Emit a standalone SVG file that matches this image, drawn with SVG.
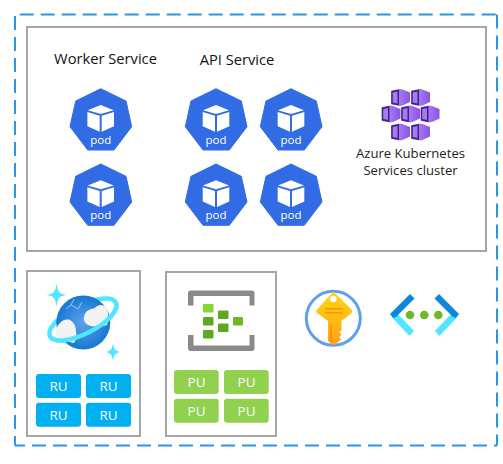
<svg xmlns="http://www.w3.org/2000/svg" width="503" height="464" viewBox="0 0 503 464">
<style>
text{font-family:"Open Sans","Noto Sans","Liberation Sans",sans-serif}
.box{fill:#fff;stroke:#a6a6a6;stroke-width:2}
.title{font-size:14.7px;fill:#111;text-anchor:middle}
.cap{font-size:13.100px;fill:#222;text-anchor:middle}
.pod{font-size:11.500px;fill:#fff;text-anchor:middle}
.unit{font-size:13.500px;fill:#fff;text-anchor:middle}
.ru{fill:#00b0f0}
.pu{fill:#92d050}
</style>
<defs>
<g id="podShape">
<path d="M0 0 25.3 12.3 31 38 13.3 61.300H-13L-30.700 38-25 12.300Z" fill="#326ce5" stroke="#326ce5" stroke-width="1" stroke-linejoin="round"/>
<path d="M0 16.300-13 21.500 0 25.200 13 21.500Z" fill="#fff"/>
<path d="M-13.300 23.200-1 27V43L-13.300 37.600Z" fill="#fff"/>
<path d="M13.300 23.200 1 27V43L13.300 37.600Z" fill="#fff"/>
</g>
<linearGradient id="cubeGrad" x1="0" x2="1" y1="0" y2="0"><stop offset="0" stop-color="#b796f9"/><stop offset="1" stop-color="#8a52e6"/></linearGradient>
<g id="aksCube">
<path d="M-9-7-1-8.500 2-8 9.500-5V4.500L2 8-1 8.500-9 7Z" fill="url(#cubeGrad)"/>
<path d="M-9.300-6.500-1.500-8V8L-9.300 6.500Z" fill="#3f2180"/>
<path d="M-7.800-5-3-5.900V5.900L-7.800 5Z" fill="#a67af4"/>
</g>
<radialGradient id="globe" cx="0.5" cy="0.5" r="0.55"><stop offset="0" stop-color="#5ea0ef"/><stop offset="1" stop-color="#0f74cc"/></radialGradient>
<linearGradient id="keyGrad" x1="0" x2="0" y1="0" y2="1"><stop offset="0" stop-color="#ffd70f"/><stop offset="1" stop-color="#fea11b"/></linearGradient>
<path id="star" d="M0-12C1-3 3-1 10 0 3 1 1 3 0 12-1 3-3 1-10 0-3-1-1-3 0-12Z" fill="#50e6ff"/>
</defs>

<g id="connectors"/>

<g id="outer-boundary"><path d="M19.700 14.500H497M15 16V445.500M32 445.500H497M15 445.500H25M497 14.500V445.500" fill="none" stroke="#2b95e6" stroke-width="2" stroke-dasharray="14 7"/></g>

<g id="aks-panel"><rect class="box" x="27" y="27" width="459" height="224"/></g>

<g id="worker-title"><text class="title" x="105.500" y="64">Worker Service</text></g>
<g id="api-title"><text class="title" x="237" y="64.500">API Service</text></g>

<g id="pod-w1"><use href="#podShape" x="100.700" y="88.700"/><text class="pod" x="100.700" y="144">pod</text></g>
<g id="pod-w2"><use href="#podShape" x="100.700" y="164"/><text class="pod" x="100.700" y="219">pod</text></g>
<g id="pod-a1"><use href="#podShape" x="216" y="88.700"/><text class="pod" x="216" y="144">pod</text></g>
<g id="pod-a2"><use href="#podShape" x="291" y="88.700"/><text class="pod" x="291" y="144">pod</text></g>
<g id="pod-a3"><use href="#podShape" x="216" y="164"/><text class="pod" x="216" y="219">pod</text></g>
<g id="pod-a4"><use href="#podShape" x="291" y="164"/><text class="pod" x="291" y="219">pod</text></g>

<g id="aks-cluster">
<use href="#aksCube" x="400.500" y="97.500"/><use href="#aksCube" x="420.500" y="97.500"/>
<use href="#aksCube" x="391" y="114"/><use href="#aksCube" x="410.500" y="114"/><use href="#aksCube" x="430" y="114"/>
<use href="#aksCube" x="400.500" y="132"/><use href="#aksCube" x="420.500" y="132"/>
<text class="cap" x="410.500" y="158">Azure Kubernetes</text>
<text class="cap" x="410.500" y="175">Services cluster</text>
</g>

<g id="cosmos">
<rect class="box" x="27" y="271" width="113" height="165"/>
<ellipse cx="83" cy="319.500" rx="37" ry="14" transform="rotate(-27 83 319.500)" fill="none" stroke="#50e6ff" stroke-width="4.400"/>
<circle cx="83.300" cy="322.500" r="27" fill="url(#globe)"/>
<path d="M56 330C58 323 64 318 70 320 75 323 76 328 76 331 77 335 76 340 74 343 69 342 62 340 59 339 57 336 55 334 56 330Z" fill="#f2f2f2"/>
<path d="M84 317C85 310 91 309 95 308 99 303 105 305 107 309 109 315 108.500 321 107 325 100 327 92 327 88 325 85 323 83 320 84 317Z" fill="#f2f2f2"/>
<path d="M66 309 71 305 78 309 82 302M71 305 74 299" fill="none" stroke="#cfe6fb" stroke-width=".7"/>
<path d="M-37 0A37 14 0 0 0 37 0" transform="translate(83 319.500) rotate(-27)" fill="none" stroke="#50e6ff" stroke-width="4.400"/>
<use href="#star" x="56.500" y="295"/>
<use href="#star" transform="translate(113 352) scale(.8)"/>
<rect class="ru" x="36" y="374" width="45" height="24" rx="3"/><text class="unit" x="58.500" y="391">RU</text>
<rect class="ru" x="86" y="374" width="45" height="24" rx="3"/><text class="unit" x="108.500" y="391">RU</text>
<rect class="ru" x="36" y="402.700" width="45" height="24" rx="3"/><text class="unit" x="58.500" y="420">RU</text>
<rect class="ru" x="86" y="402.700" width="45" height="24" rx="3"/><text class="unit" x="108.500" y="420">RU</text>
</g>

<g id="stream-analytics">
<rect class="box" x="166" y="272" width="110" height="164"/>
<path d="M188 305.500V293C188 291.500 189 290.500 190.500 290.500H252C253.500 290.500 254.500 291.500 254.500 293V305.500H249.500V296H193.500V305.500Z" fill="#8a8a8a"/>
<path d="M188 335V348.500C188 350 189 351 190.500 351H252C253.500 351 254.500 350 254.500 348.500V335H249.500V345.500H193.500V335Z" fill="#8a8a8a"/>
<rect x="203" y="304" width="10.500" height="8.500" rx="1" fill="#86d633"/>
<rect x="203" y="317" width="10.500" height="8.500" rx="1" fill="#5ea922"/>
<rect x="203" y="330" width="10.500" height="8.500" rx="1" fill="#5ea922"/>
<rect x="218" y="310.500" width="10.500" height="8.500" rx="1" fill="#5ea922"/>
<rect x="218" y="323.500" width="10.500" height="8.500" rx="1" fill="#5ea922"/>
<rect x="233" y="317" width="10" height="8.500" rx="1" fill="#6bb822"/>
<rect class="pu" x="174" y="370" width="44.700" height="24" rx="3"/><text class="unit" x="196.500" y="387">PU</text>
<rect class="pu" x="224" y="370" width="44.700" height="24" rx="3"/><text class="unit" x="246.500" y="387">PU</text>
<rect class="pu" x="174" y="398.700" width="44.700" height="24" rx="3"/><text class="unit" x="196.500" y="416">PU</text>
<rect class="pu" x="224" y="398.700" width="44.700" height="24" rx="3"/><text class="unit" x="246.500" y="416">PU</text>
</g>

<g id="key-vault">
<circle cx="333.300" cy="318.300" r="27" fill="#fff" stroke="#5ea0ef" stroke-width="3"/>
<path d="M333.500 291.500 351.500 309.500C352.500 310.500 352.500 312 351.500 313L341.500 321V330L339.500 332 341.500 334.500 339.500 337 341 339.500 339 341.500 333.500 345.500 328 341V321L317 313C316 312 316 310.500 317 309.500Z" fill="url(#keyGrad)"/>
<circle cx="333.500" cy="299" r="3.300" fill="#fff"/>
<path d="M325 308H342.500V309.500H325ZM325 312H342.500V313.500H325Z" fill="#ff9300"/>
<path d="M330 325H332V342H330Z" fill="#ff9300"/>
</g>

<g id="virtual-network">
<path d="M397 313 414 331 409.500 336 392.500 318Z" fill="#50e6ff"/>
<path d="M390 314 410 294 414.500 298.500 396 317 393 318Z" fill="#0f86d9"/>
<path d="M452 313 435 331 439.500 336 456.500 318Z" fill="#50e6ff"/>
<path d="M459 314 439 294 434.500 298.500 453 317 456 318Z" fill="#0f86d9"/>
<circle cx="410" cy="315" r="4.300" fill="#70b82a"/>
<circle cx="424.300" cy="315" r="4.300" fill="#70b82a"/>
<circle cx="438.300" cy="315" r="4.300" fill="#70b82a"/>
</g>
</svg>
